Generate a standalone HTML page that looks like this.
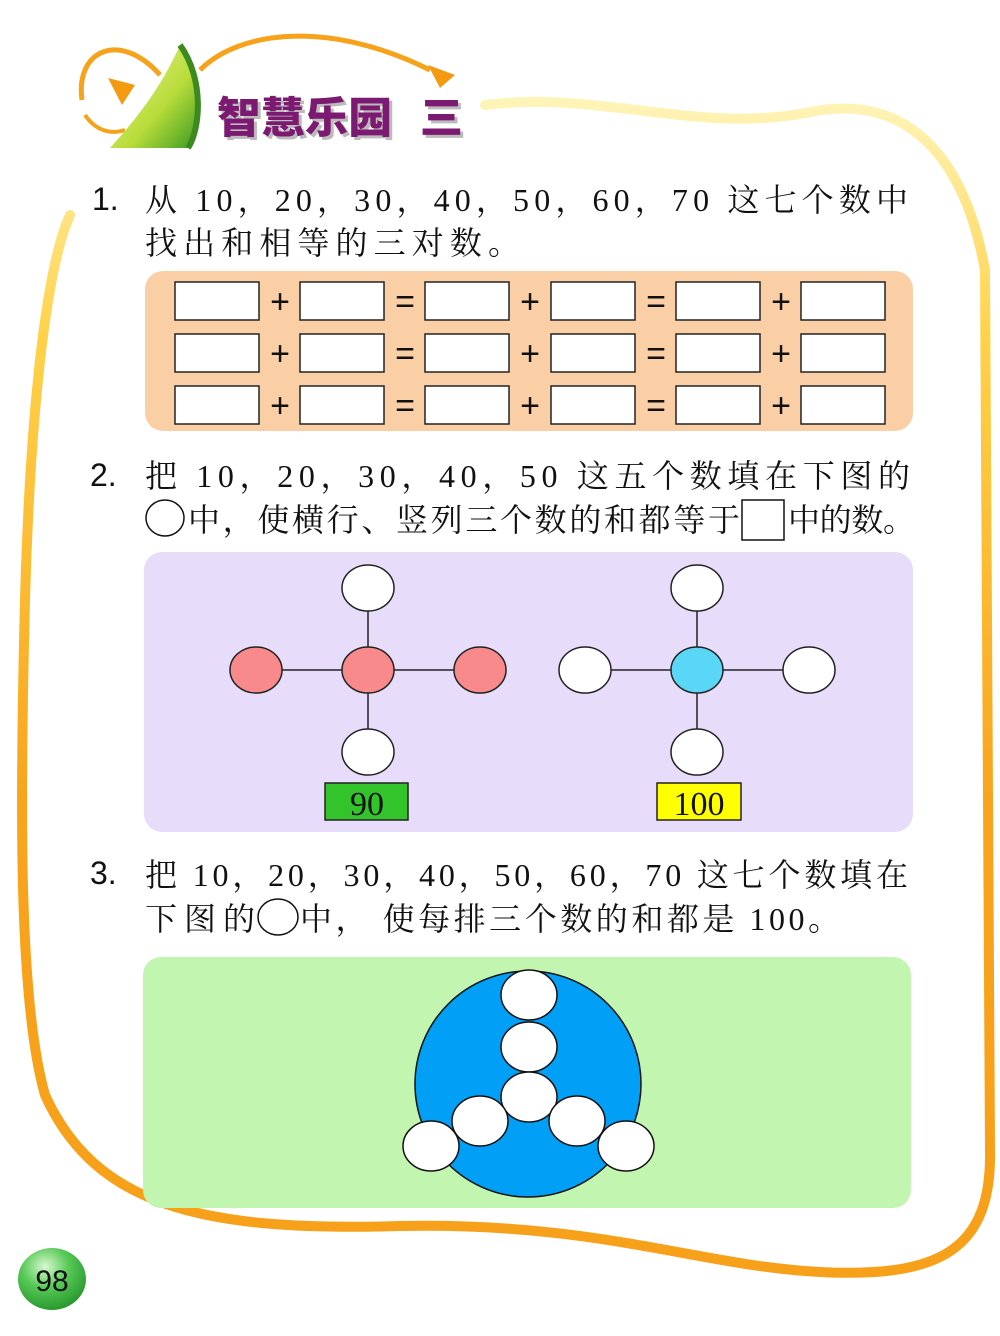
<!DOCTYPE html>
<html><head><meta charset="utf-8"><style>
html,body{margin:0;padding:0;background:#fff;}
svg{display:block;}
</style></head><body>
<svg width="1000" height="1336" viewBox="0 0 1000 1336" xmlns="http://www.w3.org/2000/svg">
<defs>
<linearGradient id="bd" x1="0" y1="0" x2="0" y2="1" gradientUnits="objectBoundingBox">
<stop offset="0" stop-color="#fff4b8"/>
<stop offset="0.2" stop-color="#ffd24a"/>
<stop offset="0.6" stop-color="#f8a41c"/>
<stop offset="1" stop-color="#f7a01a"/>
</linearGradient>
<radialGradient id="pg" cx="0.4" cy="0.3" r="0.7">
<stop offset="0" stop-color="#d8f8d0"/><stop offset="0.5" stop-color="#55c855"/><stop offset="1" stop-color="#2a9a30"/>
</radialGradient>
<linearGradient id="lime" x1="0" y1="0" x2="1" y2="1">
<stop offset="0" stop-color="#f0f59a"/><stop offset="0.6" stop-color="#b8dc3a"/><stop offset="1" stop-color="#3a9a22"/>
</linearGradient>
</defs>
<path d="M485,105 C600,90 700,135 810,112 C910,92 965,160 985,270 L990,1150 C992,1250 940,1278 820,1272 C700,1266 600,1222 400,1226 C200,1232 95,1205 45,1095 C18,1000 20,800 25,600 C30,420 45,270 70,215" fill="none" stroke="url(#bd)" stroke-width="10" stroke-linecap="round"/>
<path d="M82,100 C75,50 120,30 160,75 M200,70 C240,30 330,20 430,70" fill="none" stroke="#f7a21b" stroke-width="5"/>
<path d="M428,65 L455,75 L440,88 Z" fill="#f39a10"/>
<path d="M108,78 L135,85 L122,105 Z" fill="#f39a10"/>
<path d="M85,115 C95,130 110,135 125,130" fill="none" stroke="#f7a21b" stroke-width="4"/>
<path d="M180,45 C205,80 200,130 188,148 L110,148 C135,120 160,90 180,45 Z" fill="url(#lime)"/>
<path d="M180,45 C205,80 200,130 188,148" fill="none" stroke="#3c8a20" stroke-width="6"/>
<g font-family="'Noto Sans CJK SC',sans-serif" font-weight="900" font-size="43">
<text x="220" y="136" fill="#bbb" textLength="175" lengthAdjust="spacingAndGlyphs">智慧乐园</text>
<text x="217" y="133" fill="#7b1a70" textLength="175" lengthAdjust="spacingAndGlyphs">智慧乐园</text>
<text x="423" y="136" fill="#bbb">三</text>
<text x="420" y="133" fill="#7b1a70">三</text>
</g>

<g font-family="'Liberation Sans',sans-serif" font-size="32" fill="#111">
<text x="92" y="210">1.</text>
<text x="90" y="486">2.</text>
<text x="90" y="884">3.</text>
</g>
<g font-family="'Liberation Serif','Noto Serif CJK SC','Noto Sans CJK SC',serif" font-size="32" fill="#111">
<text x="145" y="211" textLength="763" lengthAdjust="spacing">从 10，20，30，40，50，60，70 这七个数中</text>
<text x="145" y="254" textLength="375" lengthAdjust="spacing">找出和相等的三对数。</text>
<text x="145" y="487" textLength="765" lengthAdjust="spacing">把 10，20，30，40，50 这五个数填在下图的</text>
<text x="188" y="531" textLength="552" lengthAdjust="spacing">中，使横行、竖列三个数的和都等于</text>
<text x="788" y="531" textLength="127" lengthAdjust="spacing">中的数。</text>
<text x="145" y="886" textLength="763" lengthAdjust="spacing">把 10，20，30，40，50，60，70 这七个数填在</text>
<text x="145" y="930" textLength="110" lengthAdjust="spacing">下图的</text>
<text x="300" y="930" textLength="540" lengthAdjust="spacing">中， 使每排三个数的和都是 100。</text>
</g>

<rect x="145" y="271" width="768" height="160" rx="18" fill="#fbcfa6"/>
<g fill="#fff" stroke="#222" stroke-width="1.5">
<rect x="175" y="282" width="84" height="38"/><rect x="300" y="282" width="84" height="38"/><rect x="425" y="282" width="84" height="38"/><rect x="551" y="282" width="84" height="38"/><rect x="676" y="282" width="84" height="38"/><rect x="801" y="282" width="84" height="38"/>
<rect x="175" y="334" width="84" height="38"/><rect x="300" y="334" width="84" height="38"/><rect x="425" y="334" width="84" height="38"/><rect x="551" y="334" width="84" height="38"/><rect x="676" y="334" width="84" height="38"/><rect x="801" y="334" width="84" height="38"/>
<rect x="175" y="386" width="84" height="38"/><rect x="300" y="386" width="84" height="38"/><rect x="425" y="386" width="84" height="38"/><rect x="551" y="386" width="84" height="38"/><rect x="676" y="386" width="84" height="38"/><rect x="801" y="386" width="84" height="38"/>
</g>
<g font-family="'Liberation Sans',sans-serif" font-size="34" fill="#111" text-anchor="middle">
<text x="280" y="313">+</text><text x="405" y="313">=</text><text x="530" y="313">+</text><text x="656" y="313">=</text><text x="781" y="313">+</text>
<text x="280" y="365">+</text><text x="405" y="365">=</text><text x="530" y="365">+</text><text x="656" y="365">=</text><text x="781" y="365">+</text>
<text x="280" y="417">+</text><text x="405" y="417">=</text><text x="530" y="417">+</text><text x="656" y="417">=</text><text x="781" y="417">+</text>
</g>

<ellipse cx="165" cy="518" rx="19" ry="18" fill="none" stroke="#111" stroke-width="1.5"/>
<rect x="742" y="500" width="42" height="40" fill="none" stroke="#111" stroke-width="1.5"/>
<rect x="144" y="552" width="769" height="280" rx="18" fill="#e7ddfa"/>
<g stroke="#222" stroke-width="1.5">
<line x1="256" y1="670" x2="480" y2="670"/><line x1="368" y1="588" x2="368" y2="752"/>
<line x1="585" y1="670" x2="809" y2="670"/><line x1="697" y1="588" x2="697" y2="752"/>
<ellipse cx="368" cy="588" rx="26" ry="23" fill="#fff"/>
<ellipse cx="368" cy="752" rx="26" ry="23" fill="#fff"/>
<ellipse cx="256" cy="670" rx="26" ry="23" fill="#f98a8c"/>
<ellipse cx="368" cy="670" rx="26" ry="23" fill="#f98a8c"/>
<ellipse cx="480" cy="670" rx="26" ry="23" fill="#f98a8c"/>
<ellipse cx="697" cy="588" rx="26" ry="23" fill="#fff"/>
<ellipse cx="697" cy="752" rx="26" ry="23" fill="#fff"/>
<ellipse cx="585" cy="670" rx="26" ry="23" fill="#fff"/>
<ellipse cx="697" cy="670" rx="26" ry="23" fill="#5ad6f6"/>
<ellipse cx="809" cy="670" rx="26" ry="23" fill="#fff"/>
<rect x="325" y="783" width="83" height="37" fill="#33c32a"/>
<rect x="657" y="783" width="84" height="37" fill="#ffff00"/>
</g>
<g font-family="'Liberation Serif',serif" font-size="34" fill="#111" text-anchor="middle">
<text x="367" y="815">90</text>
<text x="699" y="815">100</text>
</g>

<ellipse cx="278" cy="917" rx="20" ry="18" fill="none" stroke="#111" stroke-width="1.5"/>
<rect x="143" y="957" width="768" height="251" rx="18" fill="#c2f5b0"/>
<g stroke="#111" stroke-width="1.5">
<circle cx="528" cy="1084" r="113" fill="#029ff6"/>
<ellipse cx="529" cy="995" rx="28" ry="25" fill="#fff"/>
<ellipse cx="529" cy="1047" rx="28" ry="25" fill="#fff"/>
<ellipse cx="529" cy="1097" rx="28" ry="25" fill="#fff"/>
<ellipse cx="480" cy="1121" rx="28" ry="25" fill="#fff"/>
<ellipse cx="577" cy="1121" rx="28" ry="25" fill="#fff"/>
<ellipse cx="431" cy="1146" rx="28" ry="25" fill="#fff"/>
<ellipse cx="626" cy="1146" rx="28" ry="25" fill="#fff"/>
</g>

<ellipse cx="52" cy="1279" rx="34" ry="31" fill="url(#pg)"/>
<text x="52" y="1291" text-anchor="middle" font-family="'Liberation Sans',sans-serif" font-size="30" fill="#111">98</text>
</svg>
</body></html>
